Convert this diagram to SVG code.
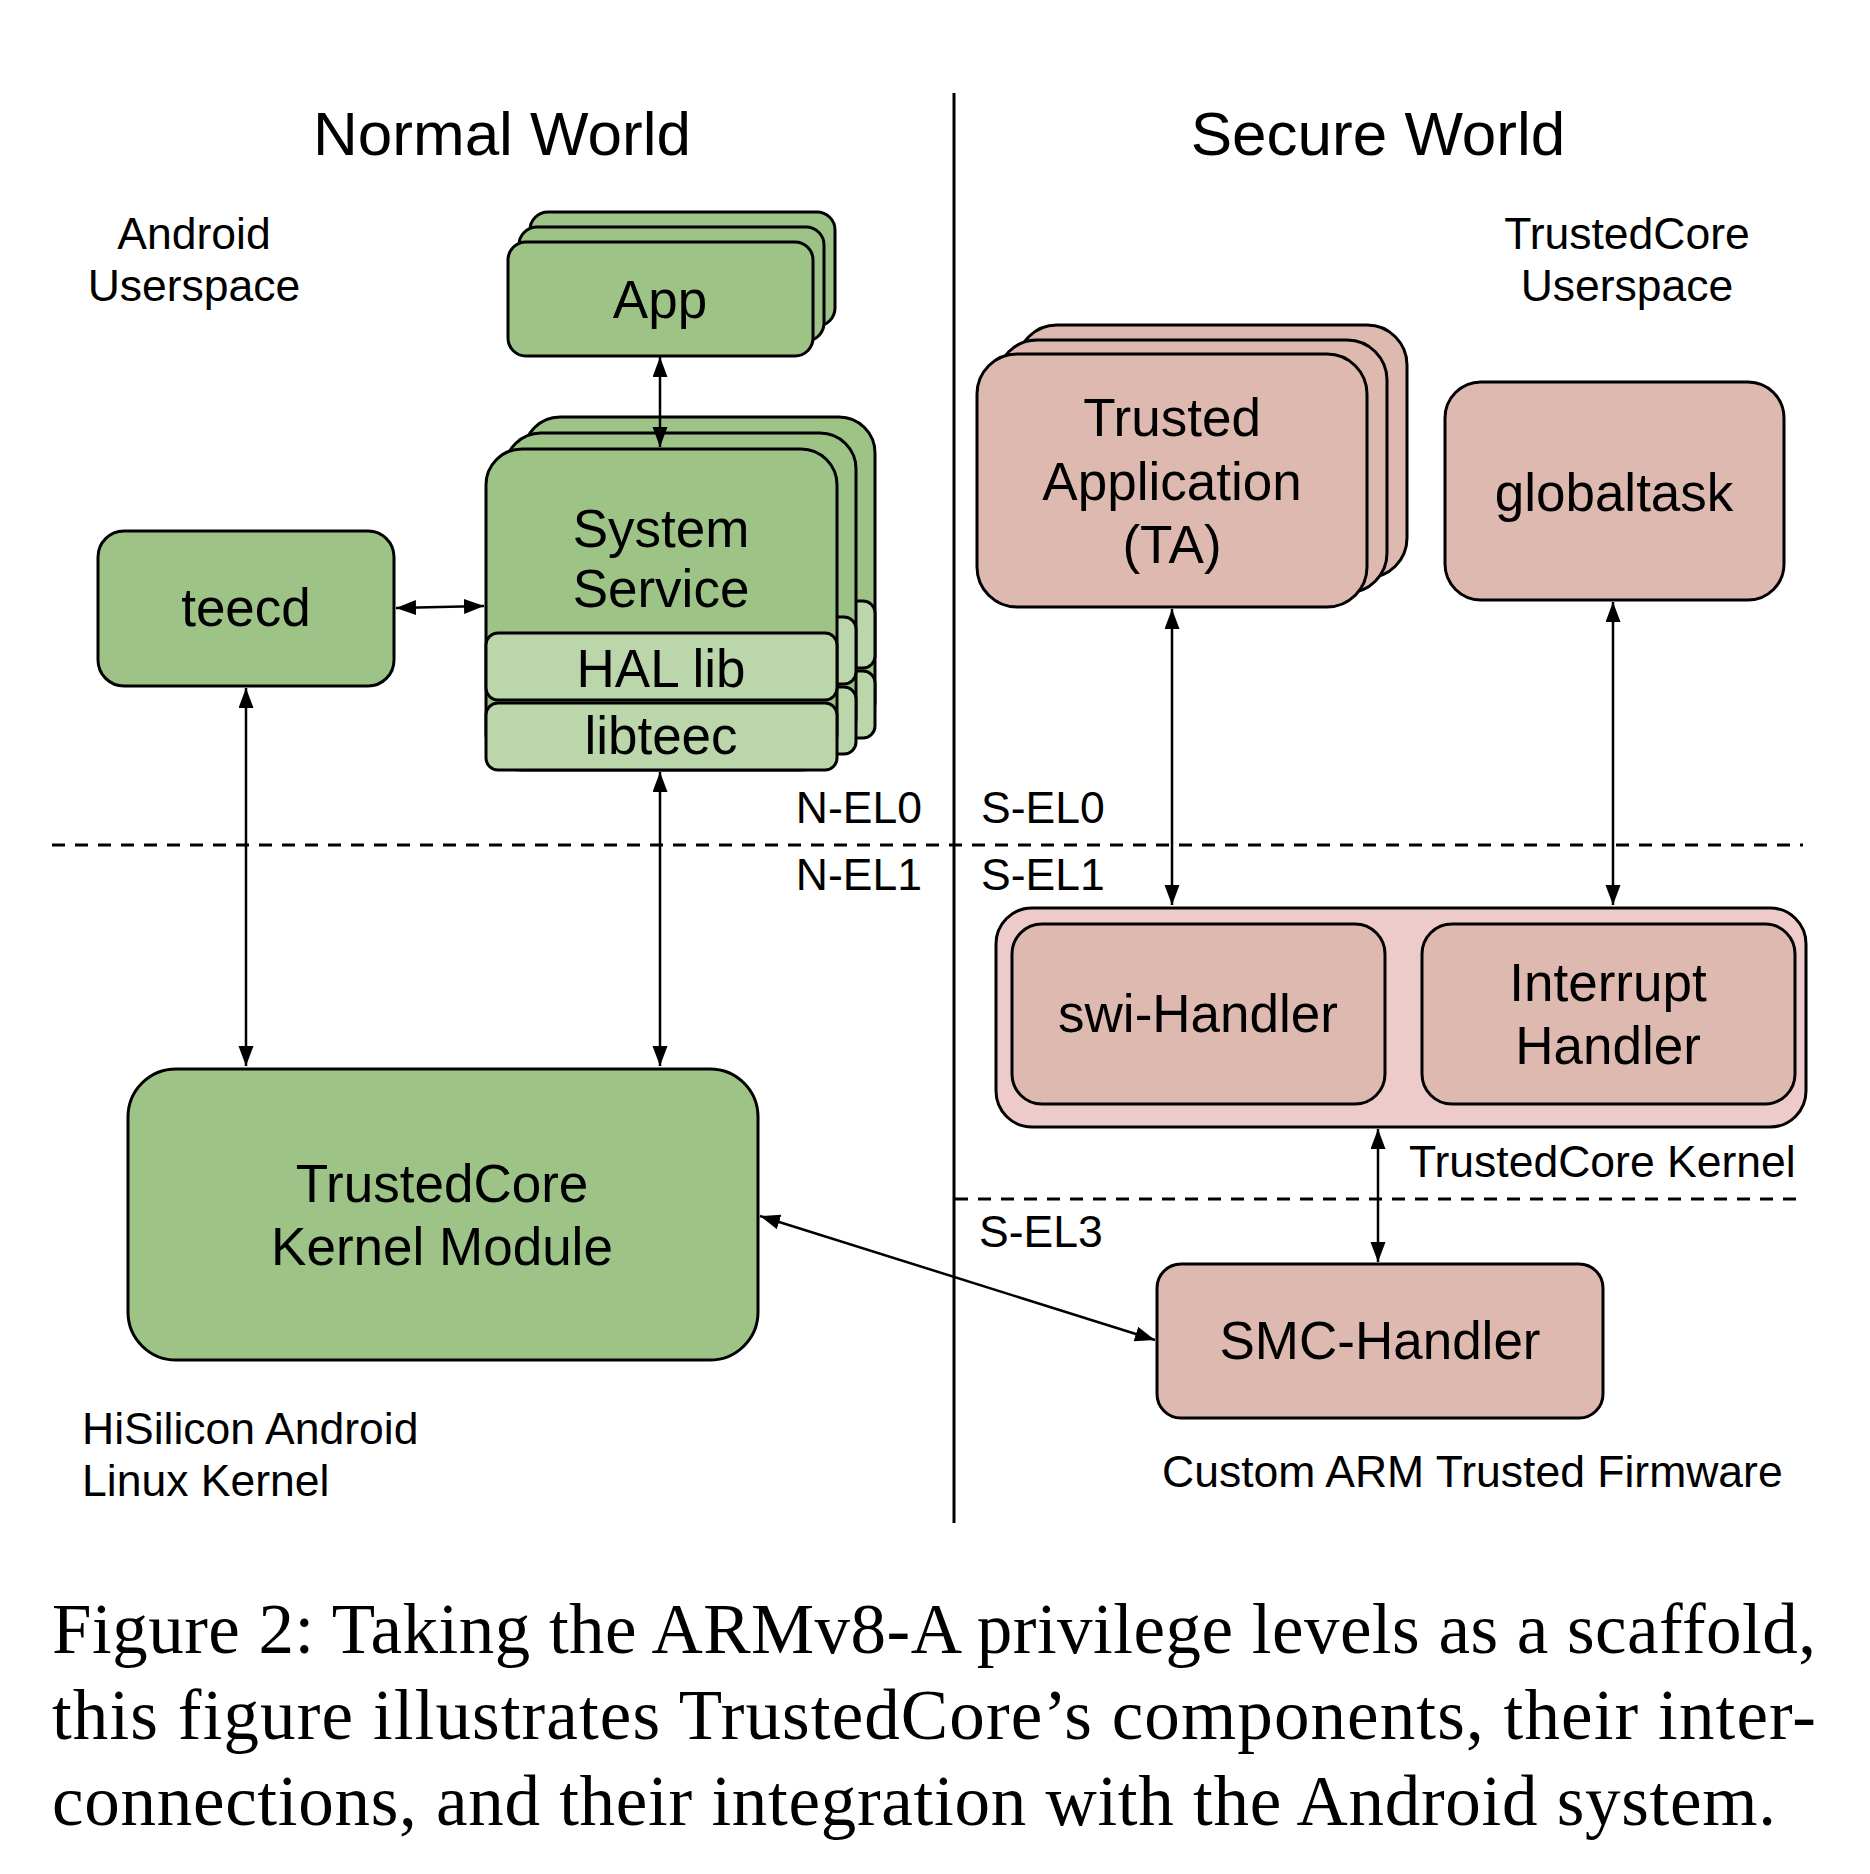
<svg xmlns="http://www.w3.org/2000/svg" xmlns:xlink="http://www.w3.org/1999/xlink" width="1870" height="1874" viewBox="0 0 1870 1874">
<style>
.g{fill:#9DC386;stroke:#000;stroke-width:3}
.lg{fill:#BBD6AA;stroke:#000;stroke-width:3}
.p{fill:#DEB9B0;stroke:#000;stroke-width:3}
.lp{fill:#ECCBCA;stroke:#000;stroke-width:3}
.t{font-family:"Liberation Sans",Arial,sans-serif;fill:#000}
.node{font-size:53px;text-anchor:middle}
.lbl{font-size:44.5px}
.title{font-size:62px;text-anchor:middle}
.cap{font-family:"Liberation Serif","Times New Roman",serif;font-size:71px;fill:#000}
.conn{stroke:#000;stroke-width:2.5;fill:none;marker-start:url(#ah);marker-end:url(#ah)}
.dash{stroke:#000;stroke-width:3;stroke-dasharray:13 10;fill:none}
</style>
<defs>
<marker id="ah" markerUnits="userSpaceOnUse" markerWidth="22" markerHeight="16" refX="20" refY="7.5" orient="auto-start-reverse">
<path d="M0,0 L20,7.5 L0,15 z" fill="#000"/>
</marker>
<g id="svcCard">
<rect class="g" x="486" y="449" width="351" height="321" rx="36"/>
<rect class="lg" x="486" y="633" width="351" height="67" rx="12"/>
<rect class="lg" x="486" y="703" width="351" height="67" rx="12"/>
</g>
<rect id="appCard" class="g" x="508" y="242" width="305" height="114" rx="18"/>
<rect id="taCard" class="p" x="977" y="354" width="390" height="253" rx="40"/>
</defs>

<g id="background">
<line x1="954" y1="93" x2="954" y2="1523" stroke="#000" stroke-width="3"/>
<line class="dash" x1="52" y1="845" x2="1803" y2="845"/>
<line class="dash" x1="955" y1="1199" x2="1803" y2="1199"/>
<text class="t title" x="502" y="155">Normal World</text>
<text class="t title" x="1378" y="155">Secure World</text>
<text class="t lbl" x="194" y="249" text-anchor="middle">Android</text>
<text class="t lbl" x="194" y="301" text-anchor="middle">Userspace</text>
<text class="t lbl" x="1627" y="249" text-anchor="middle">TrustedCore</text>
<text class="t lbl" x="1627" y="301" text-anchor="middle">Userspace</text>
<text class="t lbl" x="922" y="823" text-anchor="end">N-EL0</text>
<text class="t lbl" x="922" y="890" text-anchor="end">N-EL1</text>
<text class="t lbl" x="981" y="823">S-EL0</text>
<text class="t lbl" x="981" y="890">S-EL1</text>
<text class="t lbl" x="979" y="1247">S-EL3</text>
<text class="t lbl" x="1409" y="1177">TrustedCore Kernel</text>
<text class="t lbl" x="1162" y="1487">Custom ARM Trusted Firmware</text>
<text class="t lbl" x="82" y="1444">HiSilicon Android</text>
<text class="t lbl" x="82" y="1496">Linux Kernel</text>
</g>

<g id="app">
<use href="#appCard" transform="translate(22,-30)"/>
<use href="#appCard" transform="translate(11,-15)"/>
<use href="#appCard"/>
<text class="t node" x="660" y="318">App</text>
</g>

<g id="system-service">
<use href="#svcCard" transform="translate(38,-32)"/>
<use href="#svcCard" transform="translate(19,-16)"/>
<use href="#svcCard"/>
<text class="t node" x="661" y="547">System</text>
<text class="t node" x="661" y="607">Service</text>
<text class="t node" x="661" y="687">HAL lib</text>
<text class="t node" x="661" y="754">libteec</text>
</g>

<g id="teecd">
<rect class="g" x="98" y="531" width="296" height="155" rx="26"/>
<text class="t node" x="246" y="626">teecd</text>
</g>

<g id="tc-kernel-module">
<rect class="g" x="128" y="1069" width="630" height="291" rx="48"/>
<text class="t node" x="442" y="1202">TrustedCore</text>
<text class="t node" x="442" y="1265">Kernel Module</text>
</g>

<g id="trusted-application">
<use href="#taCard" transform="translate(40,-29)"/>
<use href="#taCard" transform="translate(20,-14)"/>
<use href="#taCard"/>
<text class="t node" x="1172" y="436">Trusted</text>
<text class="t node" x="1172" y="500">Application</text>
<text class="t node" x="1172" y="563">(TA)</text>
</g>

<g id="globaltask">
<rect class="p" x="1445" y="382" width="339" height="218" rx="36"/>
<text class="t node" x="1614" y="511">globaltask</text>
</g>

<g id="tc-kernel">
<rect class="lp" x="996" y="908" width="810" height="219" rx="36"/>
<rect class="p" x="1012" y="924" width="373" height="180" rx="30"/>
<rect class="p" x="1422" y="924" width="373" height="180" rx="30"/>
<text class="t node" x="1198" y="1032">swi-Handler</text>
<text class="t node" x="1608" y="1001">Interrupt</text>
<text class="t node" x="1608" y="1064">Handler</text>
</g>

<g id="smc-handler">
<rect class="p" x="1157" y="1264" width="446" height="154" rx="24"/>
<text class="t node" x="1380" y="1359">SMC-Handler</text>
</g>

<g id="connectors">
<line class="conn" x1="660" y1="357" x2="660" y2="447"/>
<line class="conn" x1="396" y1="608" x2="484" y2="606"/>
<line class="conn" x1="246" y1="688" x2="246" y2="1066"/>
<line class="conn" x1="660" y1="772" x2="660" y2="1066"/>
<line class="conn" x1="1172" y1="609" x2="1172" y2="905"/>
<line class="conn" x1="1613" y1="602" x2="1613" y2="905"/>
<line class="conn" x1="1378" y1="1129" x2="1378" y2="1262"/>
<line class="conn" x1="760" y1="1216" x2="1155" y2="1340"/>
</g>

<g id="caption">
<text class="cap" x="52" y="1653" textLength="1764" lengthAdjust="spacing">Figure 2: Taking the ARMv8-A privilege levels as a scaffold,</text>
<text class="cap" x="52" y="1739" textLength="1764" lengthAdjust="spacing">this figure illustrates TrustedCore’s components, their inter-</text>
<text class="cap" x="52" y="1825" textLength="1724" lengthAdjust="spacing">connections, and their integration with the Android system.</text>
</g>
</svg>
